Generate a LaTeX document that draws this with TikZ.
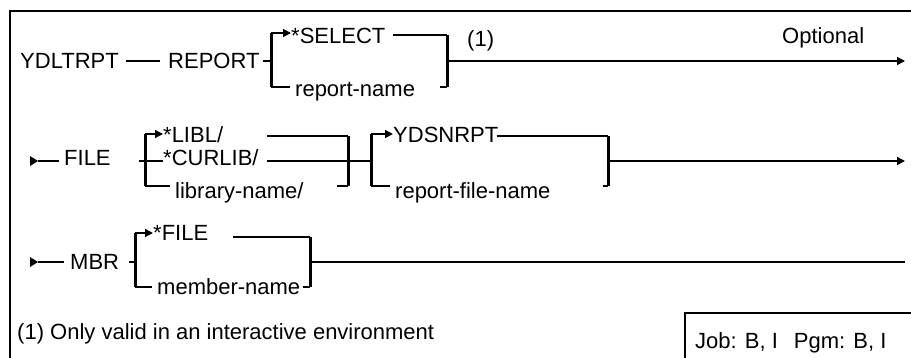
\documentclass[tikz,border=0pt]{standalone}
\usepackage{fontspec}
\setmainfont{Liberation Sans}
\usetikzlibrary{arrows.meta}

\begin{document}
\begin{tikzpicture}[x=1pt, y=-1pt,
    word/.style={anchor=base west, inner sep=0, font=\fontsize{22}{26}\selectfont},
    rail/.style={line width=1.4pt},
    bar/.style={line width=3pt},
    frame/.style={line width=2pt},
    tip/.style={-{Triangle[length=8pt,width=8pt]}}]

    \useasboundingbox (0,0) rectangle (911,357);

    % outer frame and the job box
    \draw[frame] (10,360) -- (10,11) -- (915,11);
    \draw[frame] (685,360) -- (685,313) -- (915,313);
    \node[word] (jobs) at (695,348) {Job: B, I\hspace{16pt}Pgm: B, I};
    \node[word] (foot) at (17,339) {(1) Only valid in an interactive environment};

    % Row 1: YDLTRPT REPORT
    \coordinate (m1) at (0,61);
    \node[word] (ydltrpt) at (20,68) {YDLTRPT};
    \node[word] (report) at (168,68) {REPORT};
    \node[word] (select) at (291,43) {*SELECT};
    \node[word] (repname) at (295,96) {report-name};
    \node[word] (note1) at (467,46) {(1)};
    \node[word] (optional) at (782,43) {Optional};
    \coordinate (b1l) at (271,33);
    \coordinate (b1r) at (447,35);
    \coordinate (end1) at (905,61);
    \draw[rail] ([xshift=7]ydltrpt.east |- m1) -- ([xshift=-8]report.west |- m1);
    \draw[rail] ([xshift=3]report.east |- m1) -- (b1l |- m1);
    \draw[bar] (b1l) -- (b1l |- 0,87);
    \draw[bar] (b1r) -- (b1r |- 0,87);
    \draw[rail, tip] (b1l) -- (select.west |- b1l);
    \draw[rail] ([xshift=7]select.east |- b1r) -- (b1r);
    \draw[rail] (b1l |- 0,87) -- ([xshift=-5]repname.west |- 0,87);
    \draw[rail] ([xshift=-7]b1r |- 0,87) -- (b1r |- 0,87);
    \draw[rail, tip] (b1r |- m1) -- (end1);

    % Row 2: FILE
    \coordinate (m2) at (0,161);
    \node[word] (file) at (64,165) {FILE};
    \node[word] (libl) at (163,142) {*LIBL/};
    \node[word] (curlib) at (163,165) {*CURLIB/};
    \node[word] (libname) at (175,198) {library-name/};
    \node[word] (ydsnrpt) at (393,142) {YDSNRPT};
    \node[word] (rfname) at (395,198) {report-file-name};
    \coordinate (b2l) at (145,134);
    \coordinate (b2r) at (348,136);
    \coordinate (b3l) at (371,134);
    \coordinate (b3r) at (608,136);
    \coordinate (end2) at (905,161);
    \fill (30,156) -- (38,161) -- (30,166) -- cycle;
    \draw[rail] (38,161) -- ([xshift=-5]file.west |- m2);
    \draw[rail] ([xshift=28]file.east |- m2) -- (curlib.west |- m2);
    \foreach \b in {b2l, b2r, b3l, b3r} {
        \draw[bar] (\b) -- (\b |- 0,186);
    }
    \draw[rail, tip] (b2l) -- (libl.west |- b2l);
    \draw[rail] ([xshift=8]curlib.east |- b2r) -- (b2r);
    \draw[rail] ([xshift=8]curlib.east |- m2) -- (b2r |- m2);
    \draw[rail] (b2l |- 0,186) -- ([xshift=-5]libname.west |- 0,186);
    \draw[rail] ([xshift=-11]b2r |- 0,186) -- (b2r |- 0,186);
    \draw[rail] (b2r |- m2) -- (b3l |- m2);
    \draw[rail, tip] (b3l) -- (ydsnrpt.west |- b3l);
    \draw[rail] ([xshift=-2]ydsnrpt.east |- b3r) -- (b3r);
    \draw[rail] (b3l |- 0,186) -- ([xshift=-5]rfname.west |- 0,186);
    \draw[rail] ([xshift=-5]b3r |- 0,186) -- (b3r |- 0,186);
    \draw[rail, tip] (b3r |- m2) -- (end2);

    % Row 3: MBR
    \coordinate (m3) at (0,262);
    \node[word] (mbr) at (70,269) {MBR};
    \node[word] (starfile) at (153,240) {*FILE};
    \node[word] (memname) at (157,294) {member-name};
    \coordinate (b4l) at (135,233);
    \coordinate (b4r) at (310,237);
    \coordinate (end3) at (905,262);
    \fill (30,257) -- (38,262) -- (30,267) -- cycle;
    \draw[rail] (38,262) -- ([xshift=-6]mbr.west |- m3);
    \draw[rail] ([xshift=10]mbr.east |- m3) -- (b4l |- m3);
    \draw[bar] (b4l) -- (b4l |- 0,287);
    \draw[bar] (b4r) -- (b4r |- 0,287);
    \draw[rail, tip] (b4l) -- (starfile.west |- b4l);
    \draw[rail] ([xshift=25]starfile.east |- b4r) -- (b4r);
    \draw[rail] (b4l |- 0,287) -- ([xshift=-5]memname.west |- 0,287);
    \draw[rail] ([xshift=-7]b4r |- 0,287) -- (b4r |- 0,287);
    \draw[rail] (b4r |- m3) -- (end3);

\end{tikzpicture}
\end{document}
